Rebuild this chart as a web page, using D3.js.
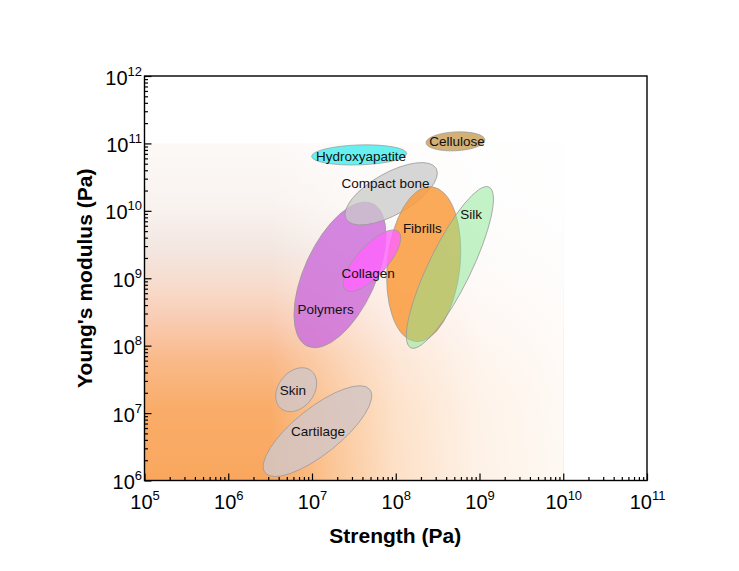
<!DOCTYPE html>
<html>
<head>
<meta charset="utf-8">
<script src="https://cdn.jsdelivr.net/npm/d3@7"></script>
<style>
  html, body { margin: 0; padding: 0; background: #fff; }
  svg { display: block; font-family: Arial, "Liberation Sans", sans-serif; }
</style>
</head>
<body>
<svg id="chart" width="739" height="571"></svg>
<script>
// ---------- data ----------
const materials = ["Hydroxyapatite", "Cellulose", "Polymers", "Compact bone", "Fibrills", "Collagen", "Silk", "Skin", "Cartilage"];
// long-axis end points of each property region (strength Pa, modulus Pa)
const startStrength = [9.9e6, 2.30e8, 5.27e7, 3.04e8, 2.69e8, 1.08e8, 1.30e9, 9.77e6, 4.90e7];
const startModulus  = [6.41e10, 1.02e11, 1.28e10, 4.25e10, 2.28e10, 4.91e9, 2.25e10, 4.26e7, 2.24e7];
const endStrength   = [1.35e8, 1.16e9, 8.83e6, 2.56e7, 1.73e8, 2.51e7, 1.51e8, 4.29e6, 2.76e6];
const endModulus    = [7.11e10, 1.13e11, 9.8e7, 7.55e9, 1.15e8, 6.73e8, 9.31e7, 1.16e7, 1.30e6];
const widthRatio    = [0.21, 0.32, 0.457, 0.405, 0.467, 0.385, 0.237, 0.735, 0.345];
// label anchor points
const labelStrength = [3.85e7, 5.38e8, 1.45e7, 7.55e7, 2.08e8, 4.67e7, 7.92e8, 5.93e6, 1.18e7];
const labelModulus  = [6.53e10, 1.09e11, 3.51e8, 2.6e10, 5.57e9, 1.18e9, 8.85e9, 2.2e7, 5.42e6];
// tick labels (exponents of 10)
const xTickExps = [5, 6, 7, 8, 9, 10, 11];
const yTickExps = [6, 7, 8, 9, 10, 11, 12];
const xTitle = "Strength (Pa)";
const yTitle = "Young's modulus (Pa)";

// ---------- styles ----------
const fills     = ["#68f0f0", "#d2b076", "rgb(204,108,218)", "rgb(202,202,202)", "rgb(249,156,62)", "rgb(255,100,252)", "rgb(135,232,145)", "rgb(212,198,196)", "rgb(212,198,196)"];
const opacities = [1, 1, 0.82, 0.75, 0.86, 0.82, 0.5, 0.85, 0.85];

// ---------- layout ----------
const svg = d3.select("#chart");
const L = 144.5, R = 647, T = 76, B = 480.5;
const x = d3.scaleLog().domain([1e5, 1e11]).range([L, R]);
const y = d3.scaleLog().domain([1e6, 1e12]).range([B, T]);

const defs = svg.append("defs");
const vg = defs.append("linearGradient").attr("id", "vgrad")
  .attr("x1", 0).attr("y1", 1).attr("x2", 0).attr("y2", 0);
[[0, "#f9a75e"], [0.22, "#f9ad6a"], [0.36, "#f9ba8a"], [0.46, "#f9c9ae"], [0.56, "#f8d9c8"],
 [0.68, "#f3e6e0"], [0.82, "#f9f3f0"], [1, "#fcf9f7"]]
  .forEach(([o, c]) => vg.append("stop").attr("offset", o).attr("stop-color", c));
const hg = defs.append("linearGradient").attr("id", "hgrad")
  .attr("x1", 0).attr("y1", 0).attr("x2", 1).attr("y2", 0);
[[0, 0], [0.3, 0], [0.45, 0.35], [0.6, 0.65], [0.8, 0.85], [1, 0.93]]
  .forEach(([o, a]) => hg.append("stop").attr("offset", o).attr("stop-color", "#fff").attr("stop-opacity", a));

const bgX0 = x(1e5), bgX1 = x(1e10), bgY0 = y(1e11), bgY1 = y(1e6);
svg.append("rect").attr("x", bgX0).attr("y", bgY0).attr("width", bgX1 - bgX0).attr("height", bgY1 - bgY0)
  .attr("fill", "url(#vgrad)");
svg.append("rect").attr("x", bgX0).attr("y", bgY0).attr("width", bgX1 - bgX0).attr("height", bgY1 - bgY0)
  .attr("fill", "url(#hgrad)");

// ---------- ellipses ----------
const gE = svg.append("g");
materials.forEach((m, i) => {
  const x1 = x(startStrength[i]), y1 = y(startModulus[i]);
  const x2 = x(endStrength[i]), y2 = y(endModulus[i]);
  const cx = (x1 + x2) / 2, cy = (y1 + y2) / 2;
  const a = Math.hypot(x2 - x1, y2 - y1) / 2;
  const ang = Math.atan2(y1 - y2, x1 - x2) * 180 / Math.PI;
  gE.append("ellipse")
    .attr("cx", cx).attr("cy", cy).attr("rx", a).attr("ry", a * widthRatio[i])
    .attr("transform", `rotate(${ang},${cx},${cy})`)
    .attr("fill", fills[i]).attr("fill-opacity", opacities[i])
    .attr("stroke", "#999").attr("stroke-width", 0.8).attr("stroke-opacity", 0.9);
});

// labels
svg.append("g").selectAll("text").data(materials).join("text")
  .attr("x", (d, i) => x(labelStrength[i]))
  .attr("y", (d, i) => y(labelModulus[i]))
  .attr("dy", "0.36em")
  .attr("text-anchor", "middle")
  .attr("font-size", "13.5px")
  .attr("fill", "#111")
  .text(d => d);

// ---------- axes ----------
function minorTicks(d0, d1) {
  const t = [];
  for (let e = d0; e < d1; e++) for (let k = 2; k <= 9; k++) t.push(k * Math.pow(10, e));
  return t;
}
const xMajor = xTickExps.map(e => Math.pow(10, e));
const yMajor = yTickExps.map(e => Math.pow(10, e));

function styleAxis(g) {
  g.select(".domain").remove();
  g.selectAll(".tick line").attr("stroke", "#000").attr("stroke-width", 1.2);
}

// x minor
svg.append("g").attr("transform", `translate(0,${B})`)
  .call(d3.axisBottom(x).tickValues(minorTicks(5, 11)).tickSize(-3.5).tickFormat(""))
  .call(styleAxis);
// x major
const gx = svg.append("g").attr("transform", `translate(0,${B})`)
  .call(d3.axisBottom(x).tickValues(xMajor).tickSize(-7).tickFormat(""))
  .call(styleAxis);
gx.selectAll(".tick").each(function(d, i) {
  const t = d3.select(this).append("text")
    .attr("y", 28).attr("text-anchor", "middle").attr("fill", "#000")
    .attr("font-size", "20px").text("10");
  t.append("tspan").attr("dy", -9).attr("font-size", "13px").text(xTickExps[i]);
});

// y minor
svg.append("g").attr("transform", `translate(${L},0)`)
  .call(d3.axisLeft(y).tickValues(minorTicks(6, 12)).tickSize(-3.5).tickFormat(""))
  .call(styleAxis);
const gy = svg.append("g").attr("transform", `translate(${L},0)`)
  .call(d3.axisLeft(y).tickValues(yMajor).tickSize(-7).tickFormat(""))
  .call(styleAxis);
gy.selectAll(".tick").each(function(d, i) {
  const t = d3.select(this).append("text")
    .attr("x", -2.5).attr("y", 8).attr("text-anchor", "end").attr("fill", "#000")
    .attr("font-size", "20px").text("10");
  t.append("tspan").attr("dy", -9).attr("font-size", "13px").text(yTickExps[i]);
});

// frame
svg.append("rect").attr("x", L).attr("y", T).attr("width", R - L).attr("height", B - T)
  .attr("fill", "none").attr("stroke", "#000").attr("stroke-width", 1.4);

// titles
svg.append("text").attr("x", (L + R) / 2 - 0.5).attr("y", 543)
  .attr("text-anchor", "middle").attr("font-size", "21px").attr("font-weight", "bold")
  .text(xTitle);
svg.append("text").attr("transform", `translate(92,${(T + B) / 2}) rotate(-90)`)
  .attr("text-anchor", "middle").attr("font-size", "21px").attr("font-weight", "bold")
  .text(yTitle);
</script>
</body>
</html>
